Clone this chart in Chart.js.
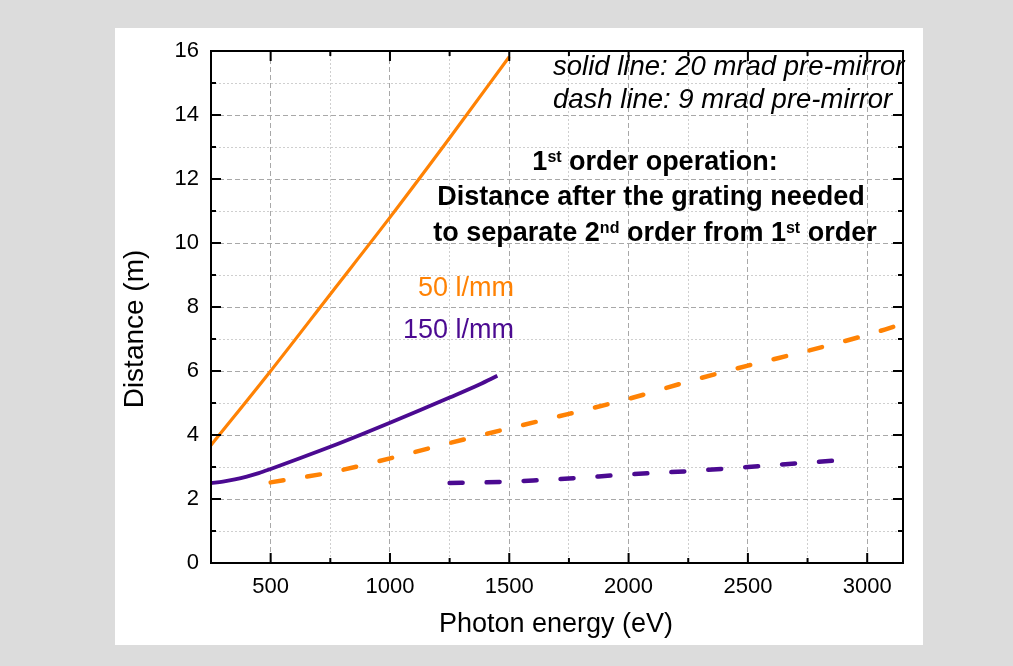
<!DOCTYPE html>
<html><head><meta charset="utf-8">
<script src="https://cdn.jsdelivr.net/npm/chart.js@4.4.1/dist/chart.umd.min.js"></script>
<style>html,body{margin:0;padding:0;background:#dcdcdc;overflow:hidden}canvas{display:block}</style>
</head><body>
<canvas id="c" width="1013" height="666"></canvas>
<script>
// ---- axis ranges and ticks ----
const xMin = 250, xMax = 3150, yMin = 0, yMax = 16;
const xMajorTicks = [500, 1000, 1500, 2000, 2500, 3000];
const xMajorLabels = ['500', '1000', '1500', '2000', '2500', '3000'];
const xMinorTicks = [750, 1250, 1750, 2250, 2750];
const yMajorTicks = [0, 2, 4, 6, 8, 10, 12, 14, 16];
const yMajorLabels = ['0', '2', '4', '6', '8', '10', '12', '14', '16'];
const yMinorTicks = [1, 3, 5, 7, 9, 11, 13, 15];

// ---- series (photon energy eV, distance m) ----
const e50Solid = [250, 500, 750, 1000, 1250, 1500];
const d50Solid = [3.68, 6.0, 8.4, 10.8, 13.28, 15.82];
const e150Solid = [250, 300, 350, 400, 450, 500, 625, 750, 875, 1000, 1125, 1250, 1375, 1450];
const d150Solid = [2.50, 2.54, 2.61, 2.70, 2.81, 2.94, 3.28, 3.63, 4.00, 4.38, 4.77, 5.17, 5.58, 5.85];
const e50Dash = [500, 750, 1000, 1250, 1500, 1750, 2000, 2250, 2500, 2750, 3000, 3110];
const d50Dash = [2.52, 2.83, 3.27, 3.75, 4.21, 4.66, 5.13, 5.67, 6.17, 6.63, 7.13, 7.38];
const e150Dash = [1250, 1400, 1600, 1750, 2000, 2250, 2500, 2750, 2950];
const d150Dash = [2.50, 2.52, 2.58, 2.64, 2.77, 2.87, 3.00, 3.14, 3.24];

const ORANGE = '#FF8204';
const PURPLE = '#4B0A91';
const FONT = '"Liberation Sans", Arial, Helvetica, sans-serif';

const pts = (xs, ys) => xs.map((x, i) => ({x: x, y: ys[i]}));

const decor = {
  id: 'decor',
  beforeDraw(chart) {
    const ctx = chart.ctx;
    ctx.save();
    ctx.fillStyle = '#dcdcdc';
    ctx.fillRect(0, 0, chart.width, chart.height);
    ctx.fillStyle = '#ffffff';
    ctx.fillRect(115, 28, 808, 617);
    ctx.restore();
  },
  afterDraw(chart) {
    const {ctx, chartArea: a, scales} = chart;
    const x = scales.x, y = scales.y;
    ctx.save();
    // frame
    ctx.strokeStyle = '#000';
    ctx.lineWidth = 2;
    ctx.strokeRect(a.left, a.top, a.right - a.left, a.bottom - a.top);
    // inward ticks on all four sides
    ctx.beginPath();
    const vt = (v, len) => {
      const p = x.getPixelForValue(v);
      ctx.moveTo(p, a.bottom); ctx.lineTo(p, a.bottom - len);
      ctx.moveTo(p, a.top); ctx.lineTo(p, a.top + len);
    };
    const ht = (v, len) => {
      const p = y.getPixelForValue(v);
      ctx.moveTo(a.left, p); ctx.lineTo(a.left + len, p);
      ctx.moveTo(a.right, p); ctx.lineTo(a.right - len, p);
    };
    xMajorTicks.forEach(v => vt(v, 10));
    xMinorTicks.forEach(v => vt(v, 5));
    yMajorTicks.forEach(v => ht(v, 10));
    yMinorTicks.forEach(v => ht(v, 5));
    ctx.stroke();

    // axis titles
    ctx.fillStyle = '#000';
    ctx.textBaseline = 'alphabetic';
    ctx.textAlign = 'center';
    ctx.font = '27px ' + FONT;
    ctx.fillText('Photon energy (eV)', 556, 632);
    ctx.save();
    ctx.translate(143, 329);
    ctx.rotate(-Math.PI / 2);
    ctx.font = '28px ' + FONT;
    ctx.fillText('Distance (m)', 0, 0);
    ctx.restore();

    // italic notes
    ctx.textAlign = 'left';
    ctx.font = 'italic 27.5px ' + FONT;
    ctx.fillText('solid line: 20 mrad pre-mirror', 553, 75);
    ctx.fillText('dash line: 9 mrad pre-mirror', 553, 108);

    // bold title with superscripts
    const rich = (segs, cx, base) => {
      const big = 'bold 27px ' + FONT, small = 'bold 16px ' + FONT;
      let w = 0;
      segs.forEach(s => { ctx.font = s[1] ? small : big; w += ctx.measureText(s[0]).width; });
      let px = cx - w / 2;
      segs.forEach(s => {
        ctx.font = s[1] ? small : big;
        ctx.fillText(s[0], px, s[1] ? base - 8 : base);
        px += ctx.measureText(s[0]).width;
      });
    };
    ctx.textAlign = 'left';
    rich([['1', 0], ['st', 1], [' order operation:', 0]], 655, 170);
    rich([['Distance after the grating needed', 0]], 651, 205);
    rich([['to separate 2', 0], ['nd', 1], [' order from 1', 0], ['st', 1], [' order', 0]], 655, 241);

    // grating labels
    ctx.textAlign = 'right';
    ctx.font = '27px ' + FONT;
    ctx.fillStyle = ORANGE;
    ctx.fillText('50 l/mm', 514, 296);
    ctx.fillStyle = PURPLE;
    ctx.fillText('150 l/mm', 514, 338);
    ctx.restore();
  }
};

const lineDs = (data, color, width, dashed) => ({
  data: data,
  borderColor: color,
  backgroundColor: color,
  borderWidth: width,
  borderDash: dashed ? [13, 24] : [],
  borderCapStyle: dashed ? 'round' : 'butt',
  pointRadius: 0,
  pointHoverRadius: 0,
  fill: false,
  cubicInterpolationMode: 'monotone'
});

new Chart(document.getElementById('c'), {
  type: 'line',
  data: {
    datasets: [
      lineDs(pts(e50Solid, d50Solid), ORANGE, 3.2, false),
      lineDs(pts(e150Solid, d150Solid), PURPLE, 3.8, false),
      lineDs(pts(e50Dash, d50Dash), ORANGE, 4.5, true),
      lineDs(pts(e150Dash, d150Dash), PURPLE, 4.5, true)
    ]
  },
  options: {
    responsive: false,
    animation: false,
    devicePixelRatio: 1,
    layout: {padding: {left: 0, right: 110, top: 51, bottom: 0}},
    plugins: {legend: {display: false}, tooltip: {enabled: false}, title: {display: false}},
    scales: {
      xMinor: {
        type: 'linear', min: xMin, max: xMax, position: 'bottom',
        afterBuildTicks: s => { s.ticks = xMinorTicks.map(v => ({value: v})); },
        afterFit: s => { s.height = 0; },
        ticks: {display: false},
        grid: {color: '#cfcfcf', lineWidth: 1, drawTicks: false},
        border: {display: false, dash: [2, 2]}
      },
      yMinor: {
        type: 'linear', min: yMin, max: yMax, position: 'left',
        afterBuildTicks: s => { s.ticks = yMinorTicks.map(v => ({value: v})); },
        afterFit: s => { s.width = 0; },
        ticks: {display: false},
        grid: {color: '#cfcfcf', lineWidth: 1, drawTicks: false},
        border: {display: false, dash: [2, 2]}
      },
      x: {
        type: 'linear', min: xMin, max: xMax, position: 'bottom',
        afterBuildTicks: s => { s.ticks = xMajorTicks.map(v => ({value: v})); },
        afterFit: s => { s.height = 103; },
        ticks: {
          autoSkip: false, maxRotation: 0, color: '#000', padding: 11,
          font: {family: FONT, size: 22},
          callback: v => xMajorLabels[xMajorTicks.indexOf(v)]
        },
        grid: {color: '#a8a8a8', lineWidth: 1, drawTicks: false},
        border: {display: false, dash: [5, 3]}
      },
      y: {
        type: 'linear', min: yMin, max: yMax, position: 'left',
        afterBuildTicks: s => { s.ticks = yMajorTicks.map(v => ({value: v})); },
        afterFit: s => { s.width = 211; },
        ticks: {
          autoSkip: false, color: '#000', padding: 12,
          font: {family: FONT, size: 22},
          callback: v => yMajorLabels[yMajorTicks.indexOf(v)]
        },
        grid: {color: '#a8a8a8', lineWidth: 1, drawTicks: false},
        border: {display: false, dash: [5, 3]}
      }
    }
  },
  plugins: [decor]
});
</script>
</body></html>
